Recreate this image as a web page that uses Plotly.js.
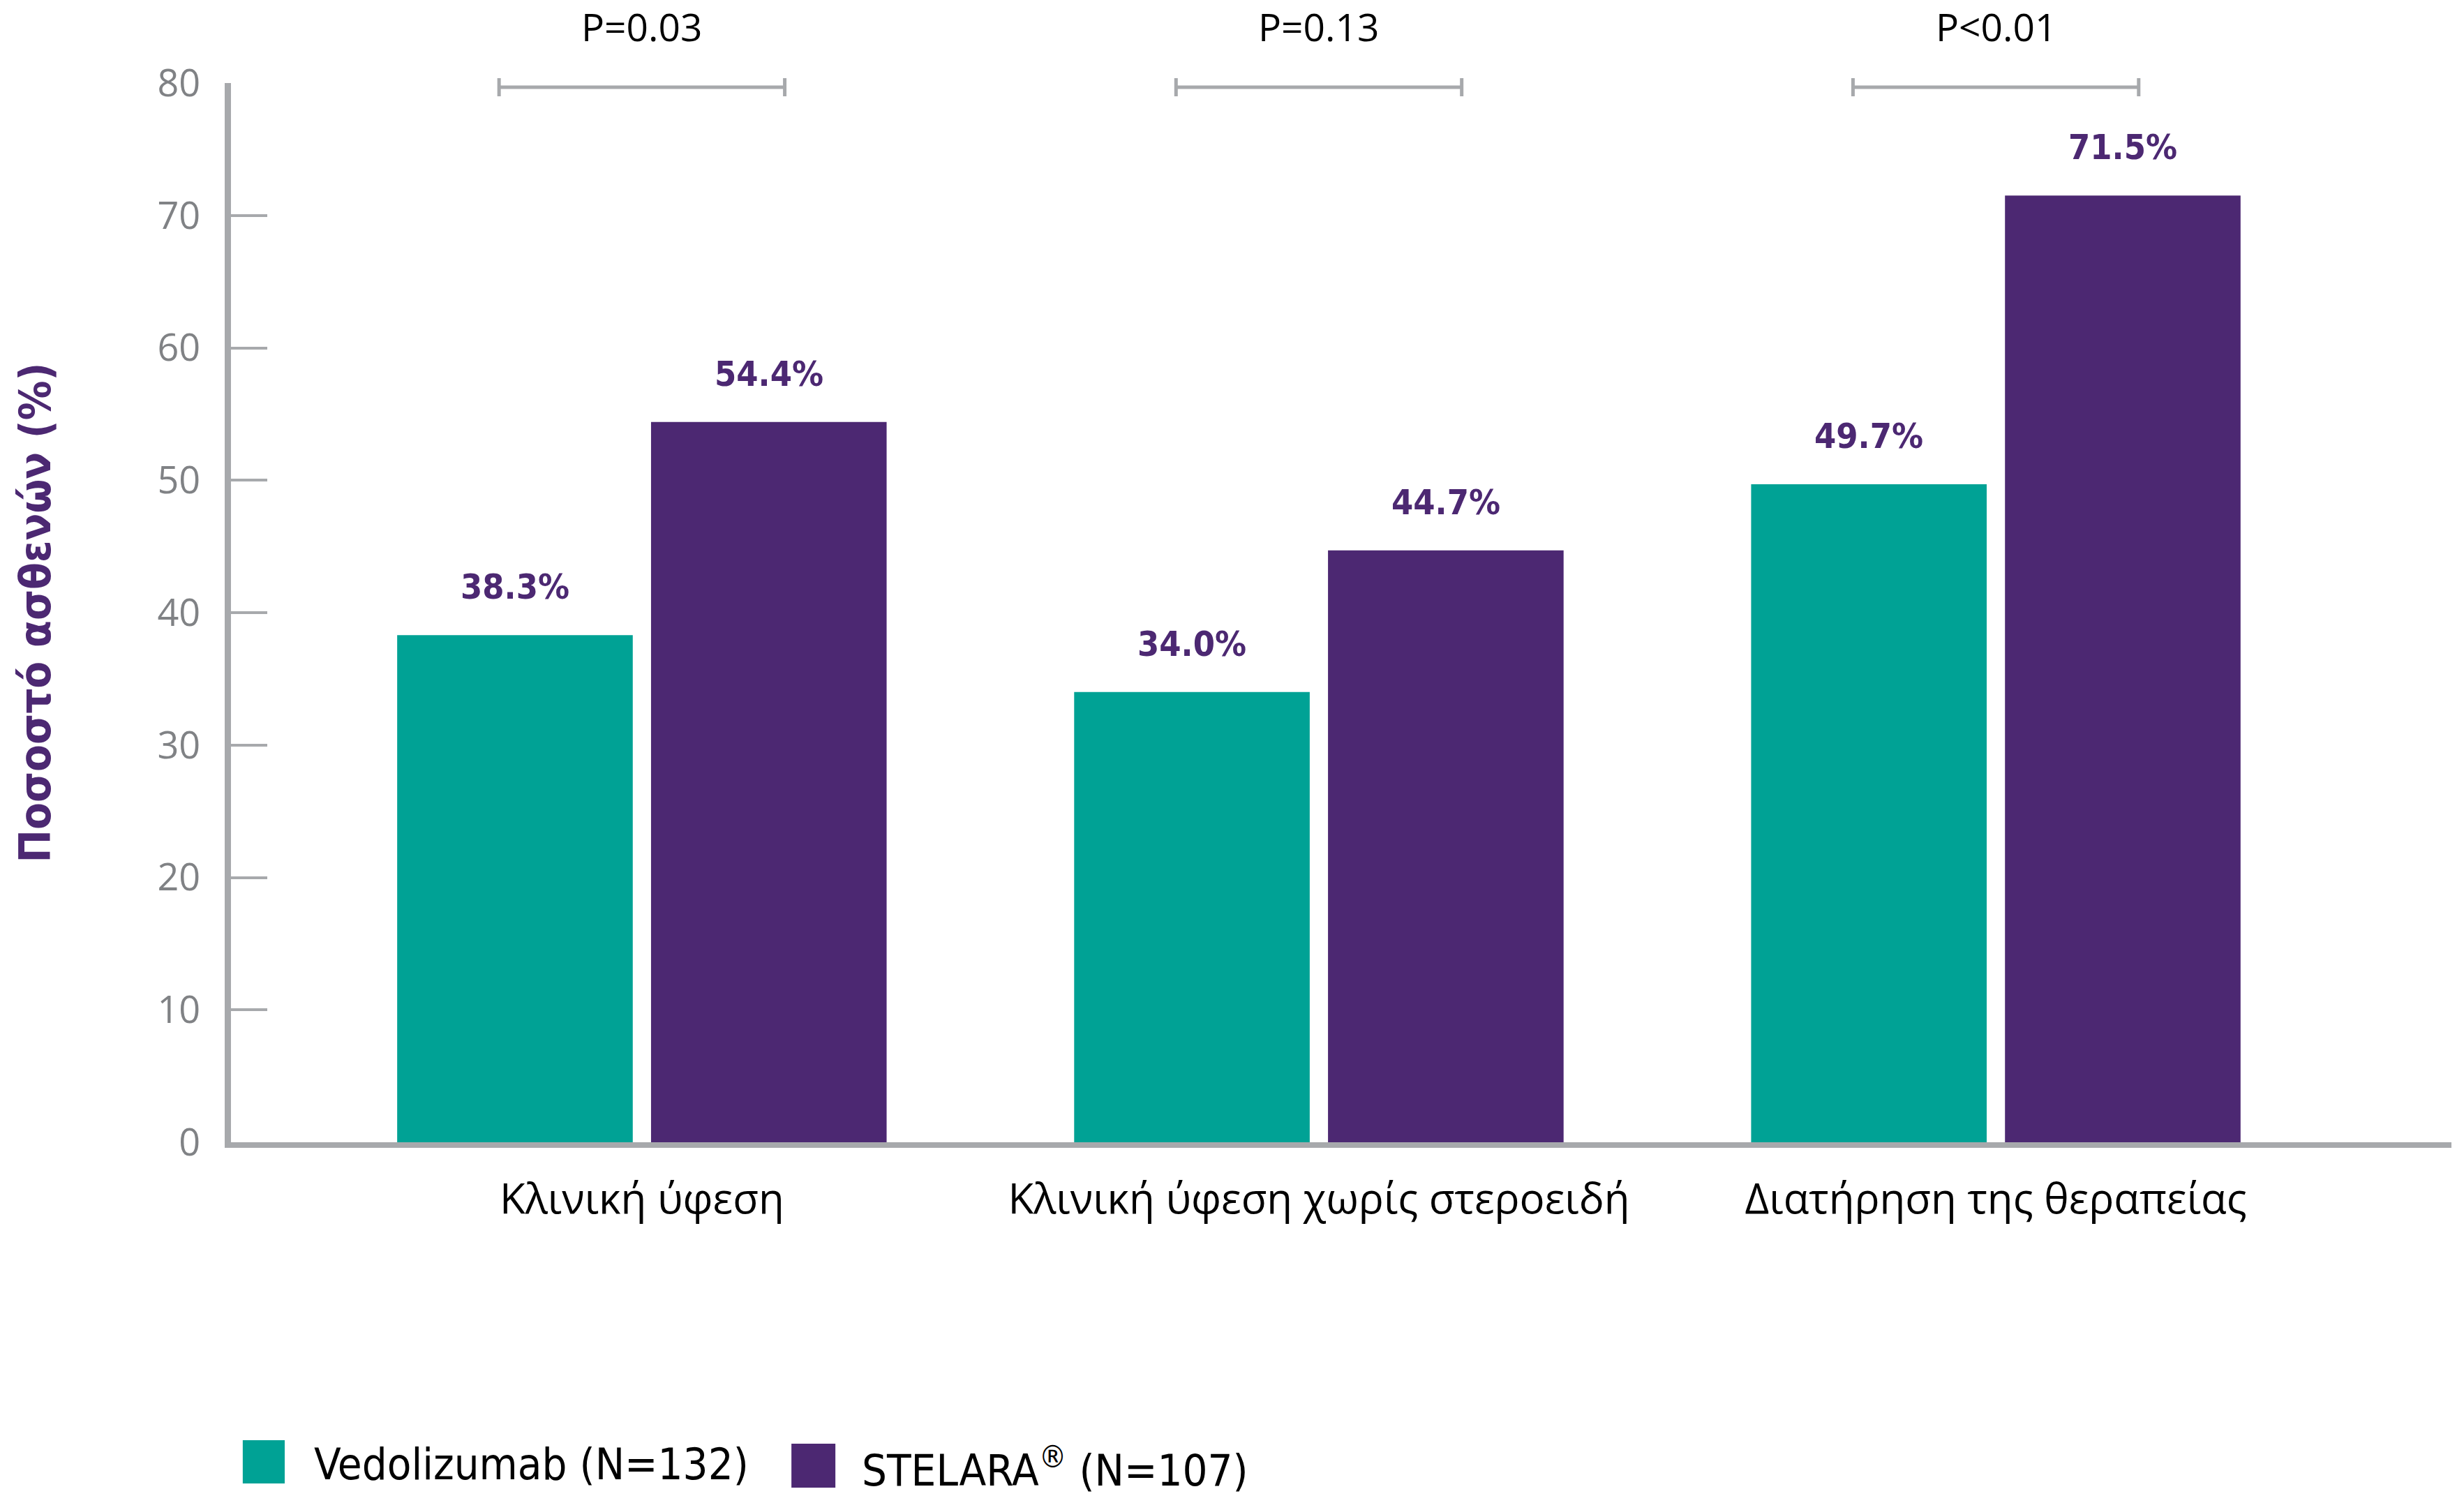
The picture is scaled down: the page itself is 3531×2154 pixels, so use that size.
<!DOCTYPE html>
<html>
<head>
<meta charset="utf-8">
<script src="https://cdn.plot.ly/plotly-3.0.1.min.js"></script>
<style>html,body{margin:0;padding:0;background:#fff;}#chart{width:3531px;height:2154px;}</style>
</head>
<body>
<div id="chart"></div>
<script>
const categories = ['Κλινική ύφεση', 'Κλινική ύφεση χωρίς στεροειδή', 'Διατήρηση της θεραπείας'];
const vedolizumab = [38.3, 34.0, 49.7];
const stelara = [54.4, 44.7, 71.5];
const pValues = ['P=0.03', 'P=0.13', 'P<0.01'];
const seriesNames = ['Vedolizumab (N=132)', 'STELARA<sup>®</sup> (N=107)'];
const seriesColors = ['#00a295', '#4c2872'];
const yTicks = [0, 10, 20, 30, 40, 50, 60, 70, 80];

const NARROW = '"Liberation Sans Narrow", "DejaVu Sans Condensed", "Liberation Sans", sans-serif';
const REGULAR = '"Open Sans", "Liberation Sans", sans-serif';
const PURPLE = '#4c2872';
const GRAY = '#a7a9ac';
const BARGAP = 0.25;
const SLOT = (1 - BARGAP) / 2;

const seriesValues = [vedolizumab, stelara];

const traces = seriesValues.map((vals, s) => ({
  type: 'bar',
  x: categories,
  y: vals,
  name: seriesNames[s],
  marker: {color: seriesColors[s]},
  hoverinfo: 'skip',
  showlegend: false
}));

const annotations = [];
// value labels
seriesValues.forEach((vals, s) => {
  vals.forEach((v, i) => {
    annotations.push({
      x: i + (s === 0 ? -SLOT / 2 : SLOT / 2), y: v, xref: 'x', yref: 'y',
      text: v.toFixed(1) + '%', showarrow: false, yanchor: 'bottom', yshift: 38,
      font: {family: NARROW, size: 50, color: PURPLE, weight: 'bold'}
    });
  });
});
// p-value labels
pValues.forEach((p, i) => {
  annotations.push({
    x: i, y: 1.054, xref: 'x', yref: 'paper', yanchor: 'middle',
    text: p.replace('<', '&lt;'), showarrow: false,
    font: {family: REGULAR, size: 55, color: '#000'}
  });
});
// custom legend
const legendPos = [
  {box: [0.0053, 0.0242, -0.2813, -0.3221], tx: 0.0368, ty: -0.3037},
  {box: [0.2524, 0.2722, -0.2846, -0.3261], tx: 0.2835, ty: -0.307}
];
const shapes = [];
seriesNames.forEach((n, s) => {
  const L = legendPos[s];
  shapes.push({type: 'rect', xref: 'paper', yref: 'paper', x0: L.box[0], x1: L.box[1], y0: L.box[2], y1: L.box[3],
    fillcolor: seriesColors[s], line: {width: 0}});
  annotations.push({x: L.tx, y: L.ty, xref: 'paper', yref: 'paper', xanchor: 'left', yanchor: 'middle',
    text: n, showarrow: false, font: {family: NARROW, size: 63, color: '#000'}});
});
// significance brackets
const BR = 0.211;
pValues.forEach((p, i) => {
  const line = {color: GRAY, width: 5};
  shapes.push({type: 'line', xref: 'x', yref: 'paper', x0: i - BR, x1: i + BR, y0: 0.996, y1: 0.996, line});
  shapes.push({type: 'line', xref: 'x', yref: 'paper', x0: i - BR, x1: i - BR, y0: 0.9875, y1: 1.0046, line});
  shapes.push({type: 'line', xref: 'x', yref: 'paper', x0: i + BR, x1: i + BR, y0: 0.9875, y1: 1.0046, line});
});

const layout = {
  width: 3531, height: 2154,
  margin: {l: 331, r: 18, t: 119, b: 517},
  paper_bgcolor: '#fff', plot_bgcolor: '#fff',
  barmode: 'group', bargap: BARGAP, bargroupgap: 0.072,
  showlegend: false,
  xaxis: {
    type: 'category', range: [-0.607, 2.673], fixedrange: true,
    showline: true, linecolor: GRAY, linewidth: 8, ticks: '', showgrid: false, zeroline: false,
    tickfont: {family: REGULAR, size: 60, color: '#000'}, ticklabelstandoff: 22
  },
  yaxis: {
    range: [0, 80], tickvals: yTicks, ticktext: yTicks.map(String), fixedrange: true,
    showline: true, linecolor: GRAY, linewidth: 9, showgrid: false, zeroline: false,
    ticks: 'inside', ticklen: 52, tickwidth: 4, tickcolor: GRAY,
    tickfont: {family: REGULAR, size: 54, color: '#808285'}, ticklabelstandoff: 24,
    title: {text: 'Ποσοστό ασθενών (%)', standoff: 136, font: {family: NARROW, size: 63, color: PURPLE, weight: 'bold'}}
  },
  annotations, shapes
};

Plotly.newPlot('chart', traces, layout, {displayModeBar: false, staticPlot: true});
</script>
</body>
</html>
